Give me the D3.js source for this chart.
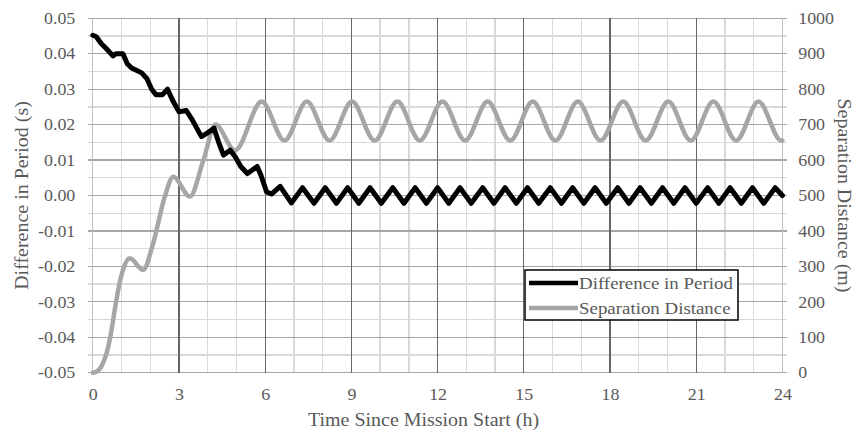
<!DOCTYPE html>
<html>
<head>
<meta charset="utf-8">
<script src="https://cdn.jsdelivr.net/npm/d3@7"></script>
<style>
  html, body { margin: 0; padding: 0; background: #ffffff; }
  svg { display: block; }
  text { font-family: "Liberation Serif", "Times New Roman", serif; fill: #595959; }
</style>
</head>
<body>
<svg id="chart" width="857" height="431"></svg>
<script>
// Tick labels
const timeTicks = [0, 3, 6, 9, 12, 15, 18, 21, 24];
const periodTicks = [-0.05, -0.04, -0.03, -0.02, -0.01, 0.00, 0.01, 0.02, 0.03, 0.04, 0.05];
const distanceTicks = [0, 100, 200, 300, 400, 500, 600, 700, 800, 900, 1000];

// Difference in Period (s) vs time (h)
const periodTime = [
  0.00, 0.12, 0.30, 0.50, 0.70, 0.80, 1.05, 1.20, 1.35, 1.55, 1.70, 1.88, 2.05, 2.20, 2.42, 2.60,
  2.80, 3.00, 3.25, 3.45, 3.62, 3.78, 3.98, 4.22, 4.38, 4.55, 4.78, 4.95, 5.15, 5.38, 5.55, 5.72,
  5.85, 6.05, 6.22,
  6.52, 6.91, 7.30, 7.70, 8.09, 8.48, 8.87, 9.26, 9.65, 10.04, 10.44, 10.83, 11.22, 11.61,
  12.00, 12.39, 12.78, 13.17, 13.57, 13.96, 14.35, 14.74, 15.13, 15.52, 15.92, 16.31, 16.70,
  17.09, 17.48, 17.87, 18.27, 18.66, 19.05, 19.44, 19.83, 20.22, 20.61, 21.00, 21.40, 21.79,
  22.18, 22.57, 22.96, 23.35, 23.75, 24.00
];
const periodValue = [
  0.0452, 0.0448, 0.0428, 0.0412, 0.0394, 0.0400, 0.0400, 0.0372, 0.0360, 0.0352, 0.0346, 0.0330,
  0.0300, 0.0284, 0.0284, 0.0300, 0.0265, 0.0236, 0.0240, 0.0215, 0.0190, 0.0166, 0.0176, 0.0190,
  0.0150, 0.0114, 0.0128, 0.0110, 0.0082, 0.0062, 0.0072, 0.0082, 0.0058, 0.0010, 0.0004,
  0.0026, -0.0021, 0.0022, -0.0022, 0.0022, -0.0022, 0.0022, -0.0022, 0.0022, -0.0022, 0.0022,
  -0.0022, 0.0022, -0.0022, 0.0022, -0.0022, 0.0022, -0.0022, 0.0022, -0.0022, 0.0022, -0.0022,
  0.0022, -0.0022, 0.0022, -0.0022, 0.0022, -0.0022, 0.0022, -0.0022, 0.0022, -0.0022, 0.0022,
  -0.0022, 0.0022, -0.0022, 0.0022, -0.0022, 0.0022, -0.0022, 0.0022, -0.0022, 0.0022, -0.0022,
  0.0022, 0.0000
];

// Separation Distance (m) vs time (h)
const distanceTime = [
  0.00, 0.15, 0.30, 0.48, 0.62, 0.75, 0.90, 1.05, 1.29, 1.75, 2.10, 2.50, 2.80, 3.38, 3.85, 4.27,
  4.95, 5.88, 6.67, 7.45, 8.24, 9.02, 9.81, 10.60, 11.38, 12.17, 12.96, 13.74, 14.53, 15.31,
  16.10, 16.88, 17.67, 18.46, 19.24, 20.03, 20.81, 21.60, 22.39, 23.17, 23.96, 24.00
];
const distanceValue = [
  0, 4, 18, 55, 105, 170, 240, 290, 323, 290, 365, 495, 553, 497, 600, 700,
  627, 765, 655, 765, 655, 765, 655, 765, 655, 765, 655, 765, 655, 765,
  655, 765, 655, 765, 655, 765, 655, 765, 655, 765, 655, 655
];

const seriesNames = ["Difference in Period", "Separation Distance"];

const svg = d3.select("#chart");
const plotLeft = 92.8, plotRight = 782.4, plotTop = 18.3, plotBottom = 372.7;

const x = d3.scaleLinear().domain([0, 24]).range([plotLeft, plotRight]);
const yL = d3.scaleLinear().domain([-0.05, 0.05]).range([plotBottom, plotTop]);
const yR = d3.scaleLinear().domain([0, 1000]).range([plotBottom, plotTop]);

const grid = svg.append("g").attr("shape-rendering", "crispEdges");

// minor gridlines (every 1 h, every 0.005 s) with short outside ticks on both sides
const minorY = d3.range(0, 21).map(i => -0.05 + i * 0.005);
grid.selectAll("line.minor-h").data(minorY).join("line")
  .attr("x1", plotLeft - 5).attr("x2", plotRight + 5)
  .attr("y1", d => yL(d)).attr("y2", d => yL(d))
  .attr("stroke", "#d9d9d9").attr("stroke-width", 1.3);
grid.selectAll("line.minor-v").data(d3.range(0, 25)).join("line")
  .attr("x1", d => x(d)).attr("x2", d => x(d))
  .attr("y1", plotTop).attr("y2", plotBottom)
  .attr("stroke", "#d9d9d9").attr("stroke-width", 1.3);

// major horizontal gridlines
grid.selectAll("line.major-h").data(periodTicks).join("line")
  .attr("x1", plotLeft - 5).attr("x2", plotRight + 5)
  .attr("y1", d => yL(d)).attr("y2", d => yL(d))
  .attr("stroke", "#a6a6a6").attr("stroke-width", 1.3);

// major vertical gridlines every 3 h
grid.selectAll("line.major-v").data(timeTicks.slice(1, -1)).join("line")
  .attr("x1", d => x(d)).attr("x2", d => x(d))
  .attr("y1", plotTop).attr("y2", plotBottom)
  .attr("stroke", "#666666").attr("stroke-width", 1.3);

// axis lines
grid.append("line").attr("x1", plotLeft).attr("x2", plotLeft).attr("y1", plotTop).attr("y2", plotBottom)
  .attr("stroke", "#bfbfbf").attr("stroke-width", 1.3);
grid.append("line").attr("x1", plotRight).attr("x2", plotRight).attr("y1", plotTop).attr("y2", plotBottom)
  .attr("stroke", "#bfbfbf").attr("stroke-width", 1.3);

// the serif face used here is set a little wide
const widen = 1.1;
const tickFont = 16.3;

// tick labels via d3 axes (marks drawn above as gridlines)
const gL = svg.append("g").attr("transform", `translate(${plotLeft},0)`)
  .call(d3.axisLeft(yL).tickValues(periodTicks).tickSize(0).tickFormat(d => d.toFixed(2)));
const gR = svg.append("g").attr("transform", `translate(${plotRight},0)`)
  .call(d3.axisRight(yR).tickValues(distanceTicks).tickSize(0).tickFormat(d => String(d)));
const gB = svg.append("g").attr("transform", `translate(0,${plotBottom})`)
  .call(d3.axisBottom(x).tickValues(timeTicks).tickSize(0).tickFormat(d => String(d)));
[[gL, -17.5, 0, "0.32em"], [gR, 15.8, 0, "0.32em"], [gB, 0, 16, "0.71em"]].forEach(([g, tx, ty, dy]) => {
  g.select(".domain").remove();
  g.selectAll("text")
    .attr("x", 0).attr("y", 0).attr("dy", dy)
    .attr("transform", `translate(${tx},${ty}) scale(${widen},1)`)
    .attr("font-family", "Liberation Serif").attr("font-size", tickFont)
    .attr("fill", "#595959");
});

// axis titles
const titleFont = 18, titleWiden = 1.11;
svg.append("text")
  .attr("transform", `translate(28,195.5) rotate(-90) scale(${titleWiden},1)`)
  .attr("text-anchor", "middle").attr("font-size", titleFont)
  .text("Difference in Period (s)");
svg.append("text")
  .attr("transform", `translate(838,195.5) rotate(90) scale(${titleWiden},1)`)
  .attr("text-anchor", "middle").attr("font-size", titleFont)
  .text("Separation Distance (m)");
svg.append("text")
  .attr("transform", `translate(423.5,426) scale(${titleWiden},1)`)
  .attr("text-anchor", "middle").attr("font-size", titleFont)
  .text("Time Since Mission Start (h)");

// series
const distanceData = distanceTime.map((t, i) => [t, distanceValue[i]]);
const periodData = periodTime.map((t, i) => [t, periodValue[i]]);

svg.append("path").datum(distanceData)
  .attr("fill", "none").attr("stroke", "#a6a6a6").attr("stroke-width", 4.5)
  .attr("stroke-linejoin", "round").attr("stroke-linecap", "round")
  .attr("d", d3.line().x(d => x(d[0])).y(d => yR(d[1])).curve(d3.curveMonotoneX));

svg.append("path").datum(periodData)
  .attr("fill", "none").attr("stroke", "#000000").attr("stroke-width", 5)
  .attr("stroke-linejoin", "round").attr("stroke-linecap", "round")
  .attr("d", d3.line().x(d => x(d[0])).y(d => yL(d[1])).curve(d3.curveLinear));

// legend
const lg = svg.append("g").attr("transform", "translate(525,270)");
lg.append("rect").attr("width", 213).attr("height", 50)
  .attr("fill", "#ffffff").attr("stroke", "#000000").attr("stroke-width", 1.5);
const legendColors = ["#000000", "#a6a6a6"];
seriesNames.forEach((name, i) => {
  const yy = 13 + i * 25;
  lg.append("line").attr("x1", 4).attr("x2", 53).attr("y1", yy).attr("y2", yy)
    .attr("stroke", legendColors[i]).attr("stroke-width", 4.5);
  lg.append("text")
    .attr("transform", `translate(54,${yy}) scale(1.08,1)`)
    .attr("dy", "0.35em")
    .attr("font-size", 17.5).attr("fill", "#595959").text(name);
});
</script>
</body>
</html>
